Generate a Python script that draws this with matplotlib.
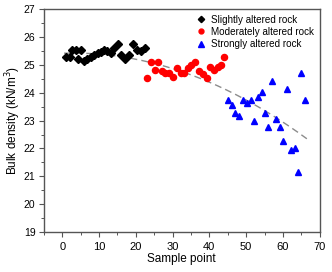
import numpy as np
import matplotlib
matplotlib.use("Agg")
import matplotlib.pyplot as plt
from matplotlib.ticker import MultipleLocator

plt.rcParams['font.family'] = ['Liberation Sans', 'DejaVu Sans']

# slightly altered rock
slight_x = [1.1, 2.0, 2.7, 3.7, 4.3, 5.0, 5.9, 6.8, 7.8, 8.7, 9.6, 10.5, 11.4, 12.3,
            13.3, 14.2, 15.1, 16.0, 17.2, 18.1, 19.2, 20.3, 21.3, 22.4]
slight_y = [25.28, 25.30, 25.52, 25.52, 25.20, 25.52, 25.14, 25.20, 25.28, 25.36, 25.42,
            25.45, 25.52, 25.49, 25.42, 25.62, 25.74, 25.36, 25.20, 25.36, 25.74, 25.55,
            25.49, 25.62]

# moderately altered rock
mod_x = [23.1, 24.1, 25.1, 26.1, 27.1, 28.0, 29.0, 30.1, 31.2, 32.2, 33.2, 34.1, 35.0,
         36.1, 37.2, 38.2, 39.3, 40.2, 41.3, 42.3, 43.2, 44.1]
mod_y = [24.52, 25.09, 24.82, 25.09, 24.80, 24.71, 24.71, 24.56, 24.90, 24.71, 24.71,
         24.90, 25.01, 25.09, 24.80, 24.66, 24.54, 24.92, 24.82, 24.92, 25.01, 25.30]

# strongly altered rock
strong_x = [45.2, 46.1, 47.0, 48.1, 49.1, 50.2, 51.2, 52.1, 53.2, 54.2, 55.1, 56.0,
            57.1, 58.2, 59.1, 60.1, 61.0, 62.1, 63.2, 64.1, 65.0, 66.0]
strong_y = [23.75, 23.56, 23.26, 23.15, 23.73, 23.63, 23.73, 22.97, 23.85, 24.04, 23.26,
            22.76, 24.44, 23.06, 22.76, 22.27, 24.15, 21.94, 22.03, 21.17, 24.71, 23.75]

# quadratic trend
trend_coef = [-0.000762, 0.0045, 25.42]
trend_range = [0.5, 66.5]

fig = plt.figure(figsize=(3.32, 2.72), dpi=100)
ax = fig.add_axes([0.132, 0.147, 0.831, 0.819])

tx = np.linspace(trend_range[0], trend_range[1], 200)
ax.plot(tx, np.polyval(trend_coef, tx), color='#8c8c8c', linestyle=(0, (5, 3)), linewidth=1.0, zorder=1)

ax.plot(slight_x, slight_y, 'D', color='black', markersize=4.0, linestyle='none', label='Slightly altered rock')
ax.plot(mod_x, mod_y, 'o', color='red', markersize=4.4, linestyle='none', label='Moderately altered rock')
ax.plot(strong_x, strong_y, '^', color='blue', markersize=5.0, linestyle='none', label='Strongly altered rock')

ax.set_xlim(-5, 70)
ax.set_ylim(19, 27)
ax.xaxis.set_major_locator(MultipleLocator(10))
ax.xaxis.set_minor_locator(MultipleLocator(5))
ax.yaxis.set_major_locator(MultipleLocator(1))
ax.yaxis.set_minor_locator(MultipleLocator(0.5))
ax.tick_params(which='both', direction='out', top=False, right=False, labelsize=8, color='#555555')
ax.tick_params(which='major', length=3.5, width=0.8)
ax.tick_params(which='minor', length=2, width=0.7)
ax.tick_params(axis='y', pad=2.5, labelsize=7.5)
for s in ax.spines.values():
    s.set_color('#555555')
    s.set_linewidth(1.0)

ax.set_xlabel('Sample point', fontsize=8.5, labelpad=1)
ax.set_ylabel('Bulk density (kN/m$^3$)', fontsize=8.5, labelpad=0.5)

ax.legend(loc='upper right', frameon=False, fontsize=7.1, handletextpad=0.6, markerscale=0.8,
          borderaxespad=0.3, labelspacing=0.22, handlelength=0.9, borderpad=0.25)

fig.savefig('out.png', dpi=100)
